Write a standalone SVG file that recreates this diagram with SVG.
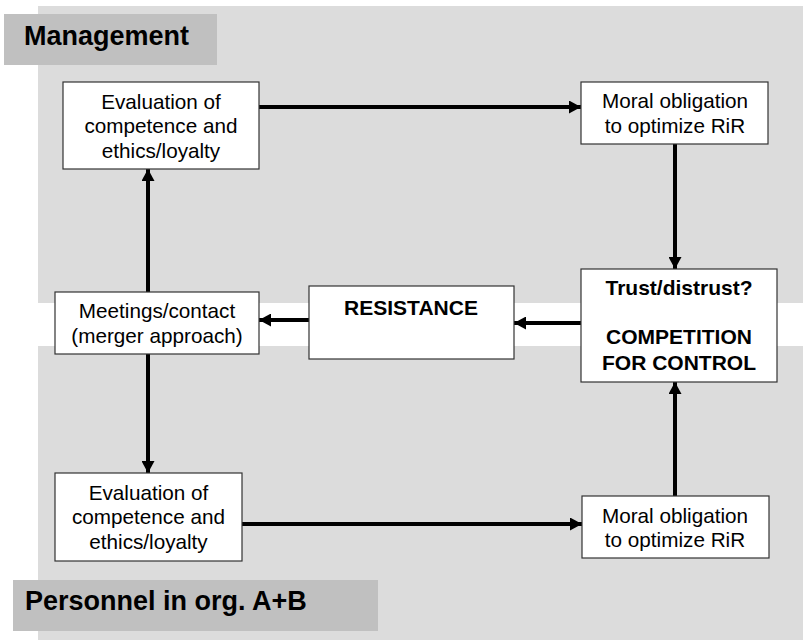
<svg xmlns="http://www.w3.org/2000/svg" width="803" height="640" viewBox="0 0 803 640">
<defs>
<style>
.panel{fill:#dcdcdc}
.lbl{fill:#c0c0c0}
.lt{font-family:"Liberation Sans",Arial,sans-serif;font-weight:bold;font-size:27px;fill:#000}
.box{fill:#fff;stroke:#333;stroke-width:1.2}
.t{font-family:"Liberation Sans",Arial,sans-serif;font-size:20.7px;fill:#000;text-anchor:middle}
.b{font-family:"Liberation Sans",Arial,sans-serif;font-size:21px;font-weight:bold;fill:#000;text-anchor:middle}
.c{fill:none;stroke:#000;stroke-width:4}
</style>
<marker id="ah" markerWidth="12" markerHeight="13" refX="12" refY="6.5" orient="auto" markerUnits="userSpaceOnUse">
<path d="M0,0 L12,6.5 L0,13 Z" fill="#000"/>
</marker>
</defs>
<rect width="803" height="640" fill="#fff"/>
<g id="panel-management">
<rect class="panel" x="38" y="6" width="765" height="297"/>
<rect class="lbl" x="4" y="14" width="213" height="51"/>
<text class="lt" x="24" y="45">Management</text>
</g>
<g id="panel-personnel">
<rect class="panel" x="38" y="346" width="765" height="294"/>
<rect class="lbl" x="13" y="580" width="365" height="51"/>
<text class="lt" x="25" y="610">Personnel in org. A+B</text>
</g>
<g id="connectors">
<line class="c" x1="259" y1="107" x2="581" y2="107" marker-end="url(#ah)"/>
<line class="c" x1="675" y1="144" x2="675" y2="269" marker-end="url(#ah)"/>
<line class="c" x1="581" y1="323" x2="514" y2="323" marker-end="url(#ah)"/>
<line class="c" x1="309" y1="320" x2="259" y2="320" marker-end="url(#ah)"/>
<line class="c" x1="148" y1="292" x2="148" y2="169" marker-end="url(#ah)"/>
<line class="c" x1="148" y1="354" x2="148" y2="473" marker-end="url(#ah)"/>
<line class="c" x1="242" y1="524" x2="582" y2="524" marker-end="url(#ah)"/>
<line class="c" x1="675" y1="496" x2="675" y2="382" marker-end="url(#ah)"/>
</g>
<g id="eval-mgmt">
<rect class="box" x="63" y="82" width="196" height="87"/>
<text class="t" x="161" y="109">Evaluation of</text>
<text class="t" x="161" y="133">competence and</text>
<text class="t" x="161" y="158">ethics/loyalty</text>
</g>
<g id="moral-mgmt">
<rect class="box" x="581" y="82" width="187" height="62"/>
<text class="t" x="675" y="108">Moral obligation</text>
<text class="t" x="675" y="133">to optimize RiR</text>
</g>
<g id="trust">
<rect class="box" x="581" y="269" width="196" height="113"/>
<text class="b" x="679" y="295">Trust/distrust?</text>
<text class="b" x="679" y="344">COMPETITION</text>
<text class="b" x="679" y="370">FOR CONTROL</text>
</g>
<g id="resistance">
<rect class="box" x="309" y="286" width="205" height="73"/>
<text class="b" x="411" y="315">RESISTANCE</text>
</g>
<g id="meetings">
<rect class="box" x="55" y="292" width="204" height="62"/>
<text class="t" x="157" y="318">Meetings/contact</text>
<text class="t" x="157" y="343">(merger approach)</text>
</g>
<g id="eval-pers">
<rect class="box" x="55" y="473" width="187" height="88"/>
<text class="t" x="148.5" y="500">Evaluation of</text>
<text class="t" x="148.5" y="524">competence and</text>
<text class="t" x="148.5" y="549">ethics/loyalty</text>
</g>
<g id="moral-pers">
<rect class="box" x="582" y="496" width="187" height="62"/>
<text class="t" x="675" y="523">Moral obligation</text>
<text class="t" x="675" y="547">to optimize RiR</text>
</g>
</svg>
